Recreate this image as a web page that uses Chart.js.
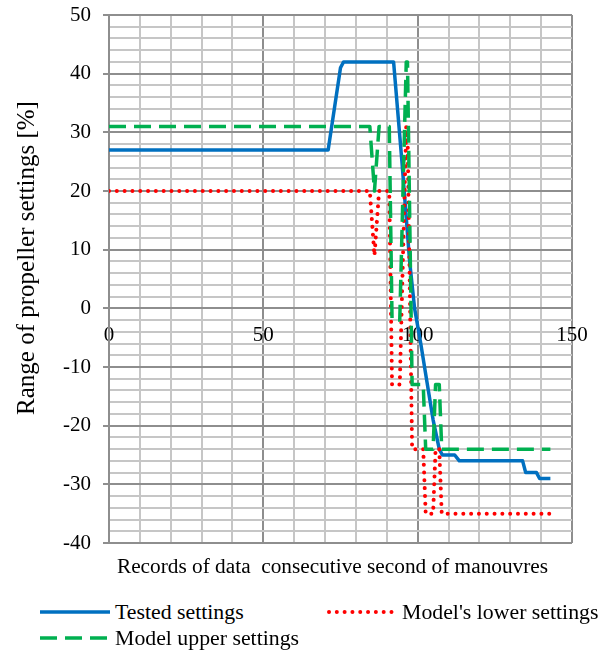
<!DOCTYPE html>
<html>
<head>
<meta charset="utf-8">
<script src="https://cdn.jsdelivr.net/npm/chart.js@4.4.1/dist/chart.umd.min.js"></script>
<style>
  html, body { margin: 0; padding: 0; background: #fff; }
  #wrap { position: relative; width: 600px; height: 652px; }
  #chart { position: absolute; left: 0; top: 0; }
  #legend {
    position: absolute; left: 40px; top: 599px; width: 560px;
    display: grid; grid-template-columns: 287px 1fr; grid-auto-rows: 26px;
    font-family: "Liberation Serif", "Times New Roman", serif; font-size: 21.8px; color: #000;
  }
  .item { display: flex; align-items: center; white-space: nowrap; }
  .item canvas { margin-right: 5px; }
</style>
</head>
<body>
<div id="wrap">
  <canvas id="chart" width="600" height="590"></canvas>
  <div id="legend"></div>
</div>
<script>
// seconds of manoeuvre (x) and propeller setting in % (y)
const testedX = [0, 71, 75, 76, 92.2, 94.9, 97.4, 99, 101, 103, 105, 107, 108, 112, 113.5, 134, 135, 138.5, 139.5, 143];
const testedY = [27, 27, 41, 42, 42, 25, 8, 0, -6, -12.5, -19, -24, -25, -25, -26, -26, -28, -28, -29, -29];

const modelX = [0, 84.5, 86, 87.5, 90.8, 91.7, 94.2, 96.3, 96.7, 98.2, 101.8, 102.6, 105, 105.8, 107, 107.8, 143];
const lowerY = [20, 20, 9, 20, 20, -13, -13, 31, 31, -24, -24, -35, -35, -24, -24, -35, -35];
const upperY = [31, 31, 20, 31, 31, -2, -2, 42, 42, -13, -13, -24, -24, -13, -13, -24, -24];

const xTicks = [0, 50, 100, 150];
const yTicks = [-40, -30, -20, -10, 0, 10, 20, 30, 40, 50];

const X_TITLE = "Records of data  consecutive second of manouvres";
const Y_TITLE = "Range of propeller settings [%]";

const SERIF = "'Liberation Serif', 'Times New Roman', serif";
const FONT = { family: SERIF, size: 21 };
const MAJOR = "#8e8e8e";
const MINOR = "#c6c6c6";

function pts(xs, ys) {
  return xs.map((x, i) => ({ x: x, y: ys[i] }));
}

const datasets = [
  {
    label: "Tested settings",
    data: pts(testedX, testedY),
    borderColor: "#0070c0",
    borderWidth: 3.5,
    borderDash: [],
    order: 3,
  },
  {
    label: "Model's lower settings",
    data: pts(modelX, lowerY),
    borderColor: "#ff0000",
    borderWidth: 4,
    borderDash: [0.01, 7.8],
    borderCapStyle: "round",
    order: 2,
  },
  {
    label: "Model upper settings",
    data: pts(modelX, upperY),
    borderColor: "#00b050",
    borderWidth: 3.5,
    borderDash: [17, 8],
    order: 1,
  },
];

// axis titles drawn by hand, the original has them off-centre
const axisTitles = {
  id: "axisTitles",
  afterDraw(chart) {
    const { ctx, chartArea } = chart;
    ctx.save();
    ctx.fillStyle = "#000";
    ctx.textAlign = "center";
    ctx.textBaseline = "middle";
    ctx.font = "21.3px " + SERIF;
    ctx.fillText(X_TITLE, (chartArea.left + chartArea.right) / 2 - 8, chartArea.bottom + 24);
    ctx.translate(27, chartArea.top + 243);
    ctx.rotate(-Math.PI / 2);
    ctx.font = "25px " + SERIF;
    ctx.fillText(Y_TITLE, 0, 0);
    ctx.restore();
  },
};

const chart = new Chart(document.getElementById("chart"), {
  type: "line",
  data: { datasets: datasets.map((d) => Object.assign({ pointRadius: 0, tension: 0, fill: false, borderJoinStyle: "round" }, d)) },
  options: {
    responsive: false,
    animation: false,
    layout: { padding: { top: 15, right: 28, left: 0, bottom: 47 } },
    plugins: { legend: { display: false }, tooltip: { enabled: false } },
    scales: {
      x: {
        type: "linear",
        min: 0,
        max: 150,
        position: { y: 0 },
        ticks: {
          stepSize: 10,
          autoSkip: false,
          maxRotation: 0,
          padding: 9,
          color: "#000",
          font: FONT,
          callback: (v) => (xTicks.includes(v) ? v : ""),
        },
        grid: {
          lineWidth: 2,
          color: (c) => (c.tick && xTicks.includes(c.tick.value) ? MAJOR : MINOR),
          tickLength: 6,
          tickColor: (c) => (c.tick && xTicks.includes(c.tick.value) ? MAJOR : "rgba(0,0,0,0)"),
        },
        border: { color: MAJOR, width: 2 },
      },
      y: {
        type: "linear",
        min: -40,
        max: 50,
        afterFit: (s) => {
          s.width = 109;
          s.paddingTop = 0;
          s.paddingBottom = 0;
        },
        ticks: {
          stepSize: 2,
          autoSkip: false,
          padding: 12,
          color: "#000",
          font: FONT,
          callback: (v) => (yTicks.includes(v) ? v : ""),
        },
        grid: {
          lineWidth: 2,
          color: (c) => (c.tick && yTicks.includes(c.tick.value) ? MAJOR : MINOR),
          tickLength: 6,
          tickColor: (c) => (c.tick && yTicks.includes(c.tick.value) ? MAJOR : "rgba(0,0,0,0)"),
        },
        border: { color: MAJOR, width: 2 },
      },
    },
  },
  plugins: [axisTitles],
});

// html legend, two columns like the original
const legendEl = document.getElementById("legend");
chart.data.datasets.forEach((ds) => {
  const item = document.createElement("div");
  item.className = "item";
  const sw = document.createElement("canvas");
  sw.width = 70;
  sw.height = 10;
  const ctx = sw.getContext("2d");
  ctx.strokeStyle = ds.borderColor;
  ctx.lineWidth = ds.borderWidth;
  ctx.lineCap = ds.borderCapStyle || "butt";
  ctx.setLineDash(ds.borderDash || []);
  ctx.beginPath();
  ctx.moveTo(ds.borderCapStyle === "round" ? 2 : 0, 5);
  ctx.lineTo(70, 5);
  ctx.stroke();
  item.appendChild(sw);
  const txt = document.createElement("span");
  txt.textContent = ds.label;
  item.appendChild(txt);
  legendEl.appendChild(item);
});
</script>
</body>
</html>
